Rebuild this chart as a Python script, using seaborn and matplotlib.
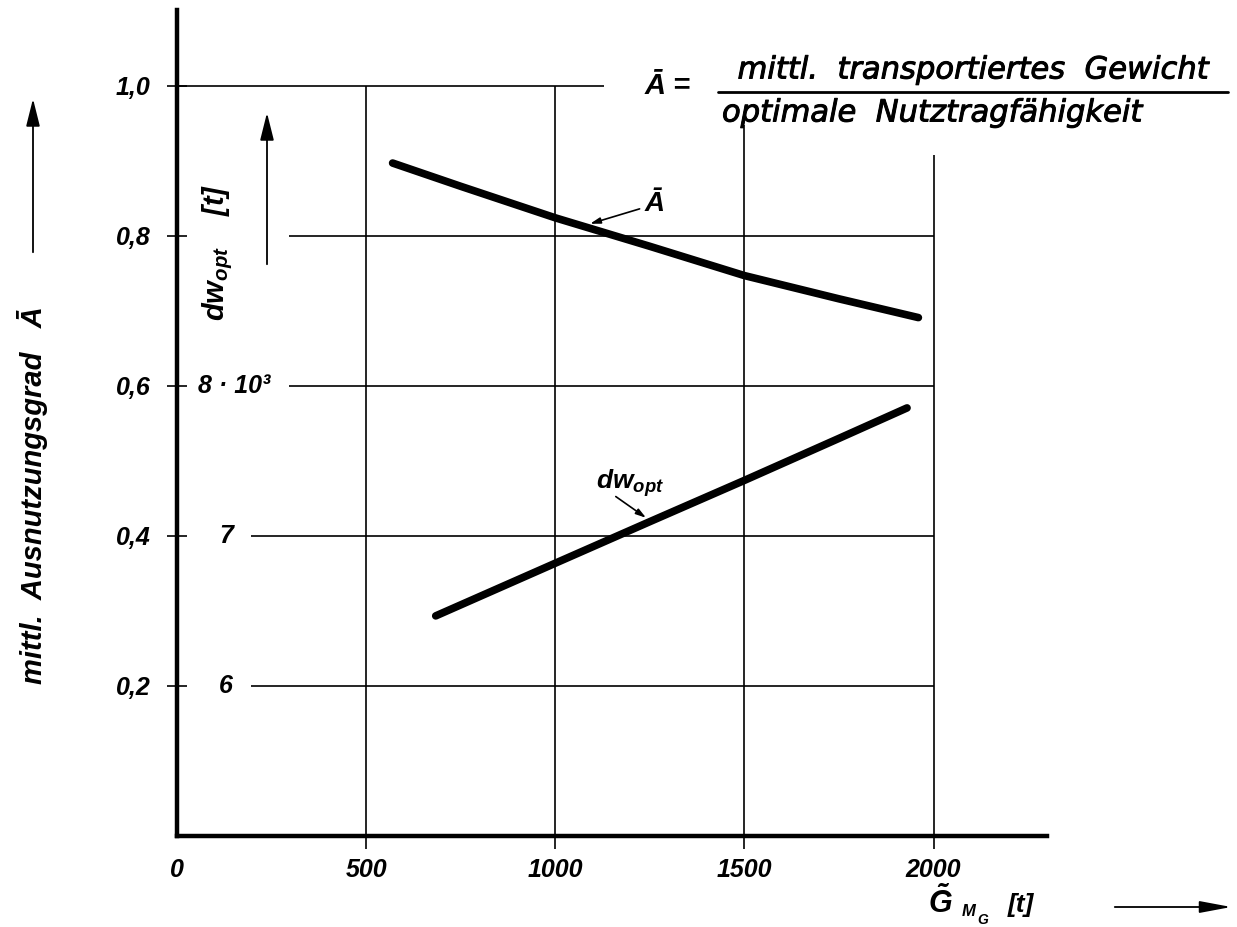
import matplotlib
matplotlib.use("Agg")
import matplotlib.pyplot as plt
import matplotlib.patheffects as pe
import seaborn as sns
import pandas as pd
from matplotlib.lines import Line2D

# values
g_a = [570, 750, 1000, 1250, 1500, 1750, 1960]
a_bar = [0.897, 0.866, 0.824, 0.786, 0.747, 0.716, 0.691]
g_dw = [684, 1000, 1250, 1500, 1750, 1930]
dw_opt = [6467, 6818, 7095, 7370, 7650, 7853]

x_ticks = [0, 500, 1000, 1500, 2000]
x_tick_labels = ["0", "500", "1000", "1500", "2000"]
y_ticks = [0.2, 0.4, 0.6, 0.8, 1.0]
y_tick_labels = ["0,2", "0,4", "0,6", "0,8", "1,0"]
dw_ticks = [6000, 7000, 8000]
dw_tick_labels = ["6", "7", "8 · 10³"]

sns.set_theme(style="white")
FAM = ["Liberation Sans", "DejaVu Sans"]
plt.rcParams["font.family"] = FAM
plt.rcParams["font.style"] = "italic"
plt.rcParams["font.weight"] = "bold"
plt.rcParams["text.color"] = "black"
plt.rcParams["axes.labelcolor"] = "black"
plt.rcParams["mathtext.fontset"] = "custom"
plt.rcParams["mathtext.rm"] = "Liberation Sans:italic:bold"
plt.rcParams["mathtext.it"] = "Liberation Sans:italic:bold"

W, H = 1237, 927
fig = plt.figure(figsize=(W / 100, H / 100), dpi=100)
fig.patch.set_facecolor("white")


def fx(px):
    return px / W


def fy(py):
    return 1 - py / H


ax = fig.add_axes([fx(177), fy(836), fx(1047) - fx(177), fy(10) - fy(836)])
Y_TOP = 1.101
ax.set_xlim(0, 2300)
ax.set_ylim(0, Y_TOP)

df_a = pd.DataFrame({"G": g_a, "A": a_bar})
sns.lineplot(data=df_a, x="G", y="A", ax=ax, color="black", lw=5.5,
             solid_capstyle="round")

# dw_opt scale: 0.2 -> 6000, 0.4 -> 7000, 0.6 -> 8000
ax2 = ax.twinx()
ax2.set_ylim(5000, 5000 + 5000 * Y_TOP)
df_dw = pd.DataFrame({"G": g_dw, "dw": dw_opt})
sns.lineplot(data=df_dw, x="G", y="dw", ax=ax2, color="black", lw=5.5,
             solid_capstyle="round")
ax2.set_yticks([])
ax2.set_ylabel("")
for s in ax2.spines.values():
    s.set_visible(False)

# grid, drawn in pieces like the original
glw = 1.2
ax.hlines([0.2, 0.4], 195, 2000, color="black", lw=glw)
ax.hlines([0.6, 0.8], 296, 2000, color="black", lw=glw)
ax.hlines(1.0, 0, 1128, color="black", lw=glw)
ax.vlines([500, 1000], 0, 1.0, color="black", lw=glw)
ax.vlines(1500, 0, 0.948, color="black", lw=glw)
ax.vlines(2000, 0, 0.908, color="black", lw=glw)

for side in ["top", "right"]:
    ax.spines[side].set_visible(False)
for side in ["left", "bottom"]:
    ax.spines[side].set_linewidth(3.2)
    ax.spines[side].set_color("black")

ax.set_xticks(x_ticks, x_tick_labels)
ax.set_yticks(y_ticks, y_tick_labels)
ax.tick_params(axis="x", direction="out", length=9, width=1.2, pad=7,
               labelsize=18, colors="black", bottom=True)
ax.tick_params(axis="y", direction="inout", length=14, width=1.2, pad=12,
               labelsize=18, colors="black", left=True)
ax.xaxis.get_major_ticks()[0].tick1line.set_visible(False)
ax.set_xlabel("")
ax.set_ylabel("")

# dw_opt tick labels inside the plot
for v, lab in zip(dw_ticks, dw_tick_labels):
    if v == 8000:
        ax2.text(55, v, lab, ha="left", va="center", fontsize=18)
    else:
        ax2.text(130, v, lab, ha="center", va="center", fontsize=18)

# curve annotations
ax.text(1262, 0.843, "Ā", ha="center", va="center", fontsize=20)
ax.annotate("", xy=(1085, 0.815), xytext=(1230, 0.837),
            arrowprops=dict(arrowstyle="-|>,head_length=0.5,head_width=0.15",
                            color="black", lw=1.2))
ax2.text(1199, 7353, "dw$_{opt}$", ha="center", va="center", fontsize=19)
ax2.annotate("", xy=(1246, 7110), xytext=(1154, 7273),
             arrowprops=dict(arrowstyle="-|>,head_length=0.5,head_width=0.15",
                             color="black", lw=1.2))

# axis titles and arrows
fig.text(fx(33), fy(495), "mittl.  Ausnutzungsgrad   Ā", rotation=90,
         ha="center", va="center", fontsize=21)
arr = dict(arrowstyle="-|>,head_length=1.4,head_width=0.35", color="black", lw=1.3)
ax.annotate("", xy=(fx(33), fy(96)), xytext=(fx(33), fy(255)),
            xycoords="figure fraction", textcoords="figure fraction",
            arrowprops=arr, annotation_clip=False)
fig.text(fx(218), fy(252), "dw$_{opt}$    [t]", rotation=90,
         ha="center", va="center", fontsize=21)
ax.annotate("", xy=(fx(267), fy(110)), xytext=(fx(267), fy(267)),
            xycoords="figure fraction", textcoords="figure fraction",
            arrowprops=arr, annotation_clip=False)

# x-axis title
fig.text(fx(928), fy(903), r"$\tilde{G}$", ha="left", va="center", fontsize=22)
fig.text(fx(962), fy(912), "M", ha="left", va="center", fontsize=12)
fig.text(fx(977), fy(920), "G", ha="left", va="center", fontsize=10)
fig.text(fx(1008), fy(905), "[t]", ha="left", va="center", fontsize=19)
ax.annotate("", xy=(fx(1234), fy(907)), xytext=(fx(1112), fy(907)),
            xycoords="figure fraction", textcoords="figure fraction",
            arrowprops=dict(arrowstyle="-|>,head_length=1.6,head_width=0.3",
                            color="black", lw=1.3), annotation_clip=False)

# definition of A-bar
thick = [pe.withStroke(linewidth=0.7, foreground="black")]
fig.text(fx(645), fy(86), "Ā =", ha="left", va="center", fontsize=21)
fig.text(fx(973), fy(70), "mittl.  transportiertes  Gewicht", ha="center",
         va="center", fontsize=22, fontweight="normal", family=["DejaVu Sans"],
         path_effects=thick)
fig.text(fx(722), fy(113), "optimale  Nutztragfähigkeit", ha="left",
         va="center", fontsize=22, fontweight="normal", family=["DejaVu Sans"],
         path_effects=thick)
fig.add_artist(Line2D([fx(718), fx(1228)], [fy(92), fy(92)], color="black",
                      lw=2.0))

fig.savefig("out.png", dpi=100, facecolor="white")
